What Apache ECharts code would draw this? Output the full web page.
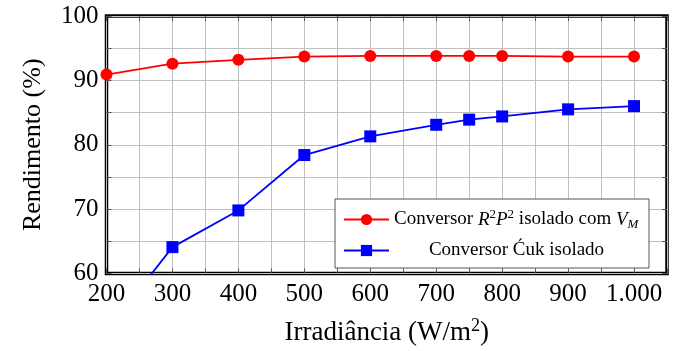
<!DOCTYPE html>
<html>
<head>
<meta charset="utf-8">
<script src="https://cdn.jsdelivr.net/npm/echarts@6/dist/echarts.min.js"></script>
<style>
  html, body { margin: 0; padding: 0; background: #fff; }
  #chart { width: 680px; height: 351px; }
</style>
</head>
<body>
<div id="chart"></div>
<script>
// irradiance values (W/m2)
var irradiance = [200, 300, 400, 500, 600, 700, 750, 800, 900, 1000];
// efficiency (%) of each converter
var r2p2Values = [90.9, 92.6, 93.2, 93.7, 93.8, 93.8, 93.8, 93.8, 93.7, 93.7];
var cukValues = [51.0, 64.1, 69.8, 78.4, 81.3, 83.1, 83.9, 84.4, 85.5, 86.0];
var seriesNames = ['Conversor R2P2 isolado com VM', 'Conversor Ćuk isolado'];

var FONT = 'Liberation Serif';

function pairs(xs, ys) {
  return xs.map(function (x, i) { return [x, ys[i]]; });
}

var chart = echarts.init(document.getElementById('chart'), null, { renderer: 'canvas' });

var tickStyle = { show: true, inside: true, length: 5, lineStyle: { color: '#555', width: 1 } };

var option = {
  animation: false,
  backgroundColor: '#fff',
  grid: {
    left: 106.5, right: 13, top: 16, bottom: 77,
    show: true, borderColor: '#000', borderWidth: 3.5, backgroundColor: 'transparent'
  },
  legend: {
    orient: 'vertical',
    left: 335, top: 199,
    padding: [9, 10, 8, 8],
    itemGap: 10,
    itemWidth: 45, itemHeight: 14,
    backgroundColor: '#fff',
    borderColor: '#555', borderWidth: 1,
    data: seriesNames,
    formatter: function (name) {
      if (name === seriesNames[0]) {
        return '{n|Conversor }{i|R}{s|2}{i|P}{s|2}{n| isolado com }{i|V}{sub|M}';
      }
      return '{c|' + name + '}';
    },
    textStyle: {
      fontFamily: FONT, fontSize: 19, color: '#000',
      rich: {
        n: { fontFamily: FONT, fontSize: 19, lineHeight: 23, color: '#000' },
        i: { fontFamily: FONT, fontSize: 19, lineHeight: 23, fontStyle: 'italic', color: '#000' },
        s: { fontFamily: FONT, fontSize: 13, lineHeight: 13, verticalAlign: 'top', color: '#000' },
        sub: { fontFamily: FONT, fontSize: 13, fontStyle: 'italic', lineHeight: 13, verticalAlign: 'bottom', color: '#000' },
        c: { fontFamily: FONT, fontSize: 19, lineHeight: 23, width: 245, align: 'center', color: '#000' }
      }
    }
  },
  xAxis: [{
    type: 'value',
    min: 200, max: 1050, interval: 50,
    name: '{a|Irradiância (W/m}{s|2}{a|)}',
    nameLocation: 'middle',
    nameGap: 44,
    nameTextStyle: {
      fontFamily: FONT, fontSize: 27, color: '#000',
      rich: {
        a: { fontFamily: FONT, fontSize: 27, lineHeight: 30, color: '#000' },
        s: { fontFamily: FONT, fontSize: 18, lineHeight: 18, verticalAlign: 'top', color: '#000' }
      }
    },
    axisLine: { show: false },
    axisTick: tickStyle,
    axisLabel: {
      fontFamily: FONT, fontSize: 25, color: '#000', margin: 8,
      showMaxLabel: true,
      formatter: function (v) {
        if (v % 100 !== 0 || v > 1000) return '';
        return v === 1000 ? '1.000' : String(v);
      }
    },
    splitLine: { show: true, lineStyle: { color: '#c0c0c0', width: 1 } }
  }, {
    type: 'value', position: 'top',
    min: 200, max: 1050, interval: 50,
    axisLine: { show: false }, axisTick: tickStyle,
    axisLabel: { show: false }, splitLine: { show: false }
  }],
  yAxis: [{
    type: 'value',
    min: 60, max: 100, interval: 5,
    name: 'Rendimento (%)',
    nameLocation: 'middle',
    nameGap: 60,
    nameTextStyle: { fontFamily: FONT, fontSize: 26, color: '#000' },
    axisLine: { show: false },
    axisTick: tickStyle,
    axisLabel: {
      fontFamily: FONT, fontSize: 25, color: '#000', margin: 8,
      formatter: function (v) { return v % 10 === 0 ? String(v) : ''; }
    },
    splitLine: { show: true, lineStyle: { color: '#c0c0c0', width: 1 } }
  }, {
    type: 'value', position: 'right',
    min: 60, max: 100, interval: 5,
    axisLine: { show: false }, axisTick: tickStyle,
    axisLabel: { show: false }, splitLine: { show: false }
  }],
  series: [{
    name: seriesNames[0],
    type: 'line',
    data: pairs(irradiance, r2p2Values),
    symbol: 'circle', symbolSize: 12,
    itemStyle: { color: '#ff0000' },
    lineStyle: { color: '#ff0000', width: 1.8 },
    clip: true, z: 5
  }, {
    name: seriesNames[1],
    type: 'line',
    data: pairs(irradiance, cukValues),
    symbol: 'rect', symbolSize: 12,
    itemStyle: { color: '#0000ff' },
    lineStyle: { color: '#0000ff', width: 1.8 },
    clip: true, z: 5
  }]
};

chart.setOption(option);
</script>
</body>
</html>
